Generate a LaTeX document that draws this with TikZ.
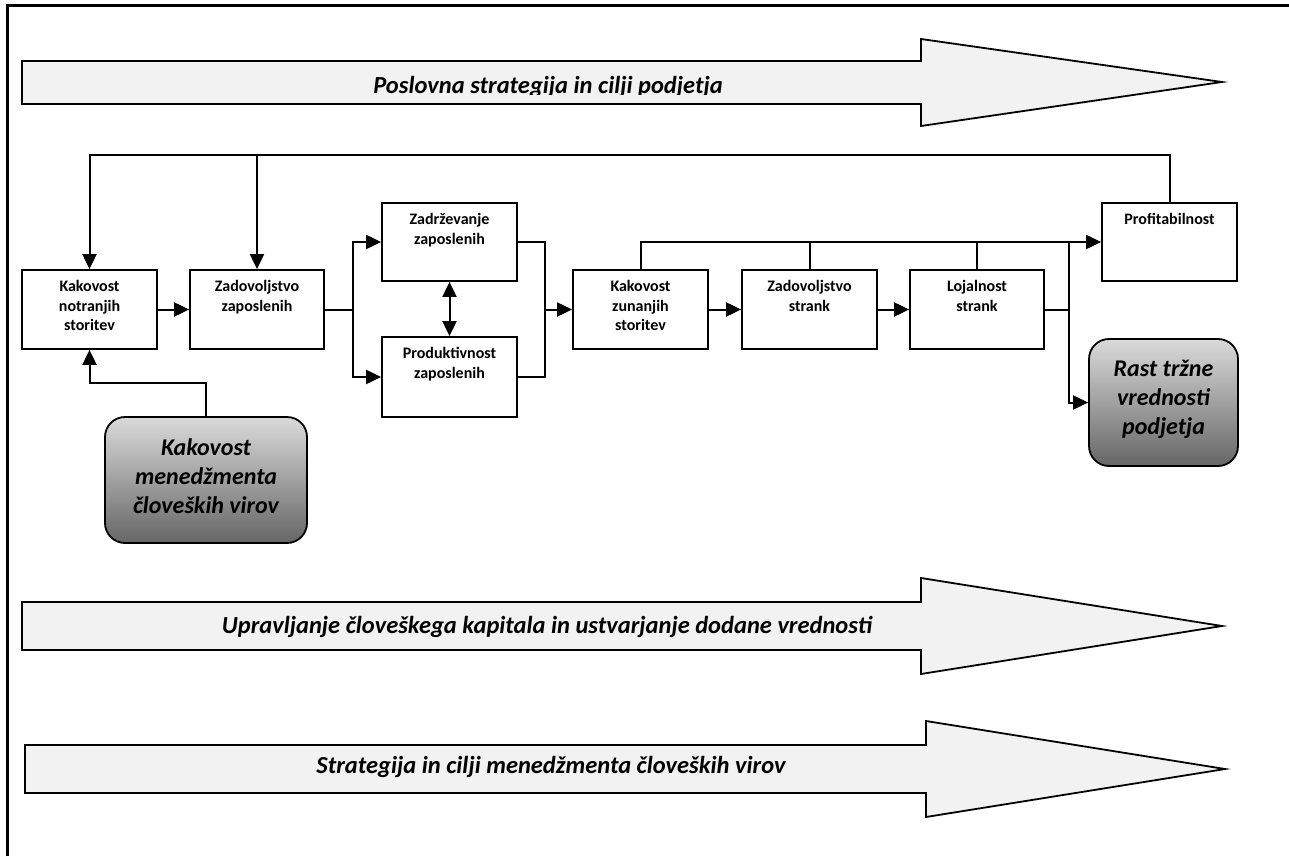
\documentclass[tikz,border=0pt]{standalone}
\usepackage{fontspec}
\setmainfont{Carlito}
\usetikzlibrary{arrows.meta}
\definecolor{bandfill}{HTML}{F2F2F2}
\definecolor{gradtop}{HTML}{DADADA}
\definecolor{gradbot}{HTML}{666666}

\begin{document}
\begin{tikzpicture}[x=1pt,y=-1pt,
  box/.style={draw, line width=1.8pt, minimum width=135pt, minimum height=79pt, inner sep=0pt, fill=white},
  boxtext/.style={anchor=north, align=center, inner sep=0pt, font=\fontsize{16}{19.5}\selectfont\bfseries},
  goal/.style={draw, line width=1.8pt, rounded corners=20pt, top color=gradtop, bottom color=gradbot, inner sep=0pt},
  goaltext/.style={align=center, inner sep=0pt, font=\fontsize{24}{29}\selectfont\bfseries\itshape},
  band/.style={draw, line width=1.8pt, fill=bandfill},
  bandtext/.style={font=\fontsize{24.5}{28}\selectfont\bfseries\itshape, inner sep=0pt},
  link/.style={line width=2pt},
  arr/.style={link, -{Triangle[length=15pt,width=14pt]}},
  dblarr/.style={link, {Triangle[length=15pt,width=14pt]}-{Triangle[length=15pt,width=14pt]}}
]
\useasboundingbox (0,0) rectangle (1289,856);

% outer frame (left and top edges)
\draw[line width=3pt] (7,856) -- (7,6) -- (1289,6);

% broad arrows
\draw[band] (22,61) -- (921,61) -- (921,39) -- (1222,82) -- (921,126) -- (921,104) -- (22,104) -- cycle;
\begin{scope}
  \clip (22,61) rectangle (921,95);
  \node[bandtext, anchor=base] (poslovna) at (548,94) {Poslovna strategija in cilji podjetja};
\end{scope}

\draw[band] (22,602) -- (921,602) -- (921,578) -- (1222,626) -- (921,674) -- (921,650) -- (22,650) -- cycle;
\node[bandtext] (upravljanje) at (547,627) {Upravljanje človeškega kapitala in ustvarjanje dodane vrednosti};

\draw[band] (25,745) -- (926,745) -- (926,721) -- (1225,769) -- (926,817) -- (926,793) -- (25,793) -- cycle;
\node[bandtext] (strategija) at (551,767) {Strategija in cilji menedžmenta človeških virov};

% process boxes
\node[box] (kn) at (89.5,309.5) {};
\node[boxtext] at ([yshift=-11pt]kn.north) {Kakovost\\notranjih\\storitev};
\node[box, minimum width=134pt] (zz) at (257,309.5) {};
\node[boxtext] at ([yshift=-11pt]zz.north) {Zadovoljstvo\\zaposlenih};
\node[box, minimum height=78pt] (zd) at (449.5,242) {};
\node[boxtext] at ([yshift=-11pt]zd.north) {Zadrževanje\\zaposlenih};
\node[box, minimum height=80pt] (pr) at (449.5,377) {};
\node[boxtext] at ([yshift=-11pt]pr.north) {Produktivnost\\zaposlenih};
\node[box] (kz) at (640.5,309.5) {};
\node[boxtext] at ([yshift=-11pt]kz.north) {Kakovost\\zunanjih\\storitev};
\node[box] (zs) at (809.5,309.5) {};
\node[boxtext] at ([yshift=-11pt]zs.north) {Zadovoljstvo\\strank};
\node[box, minimum width=134pt] (lo) at (977,309.5) {};
\node[boxtext] at ([yshift=-11pt]lo.north) {Lojalnost\\strank};
\node[box, minimum height=78pt] (pf) at (1169.5,242) {};
\node[boxtext] at ([yshift=-11pt]pf.north) {Profitabilnost};

% outcome boxes
\node[goal, minimum width=202pt, minimum height=126pt] (km) at (206,480) {};
\node[goaltext] at ([yshift=4pt]km.center) {Kakovost\\menedžmenta\\človeških virov};
\node[goal, minimum width=149pt, minimum height=127pt] (rast) at (1163.5,402.5) {};
\node[goaltext] at ([yshift=3pt]rast.center) {Rast tržne\\vrednosti\\podjetja};

% junction points
\coordinate (bus) at (0,155);
\coordinate (split) at (353,309.5);
\coordinate (merge) at (545,309.5);
\coordinate (fork) at (1069,309.5);
\coordinate (feed) at (0,383);

% feedback from profitability
\draw[arr] (pf.north) |- (kn.north |- bus) -- (kn.north);
\draw[arr] (zz.north |- bus) -- (zz.north);

% main chain
\draw[arr] (kn.east) -- (zz.west);
\draw[link] (zz.east) -- (split);
\draw[arr] (split) |- (zd.west);
\draw[arr] (split) |- (pr.west);
\draw[link] (zd.east) -| (merge);
\draw[link] (pr.east) -| (merge);
\draw[arr] (merge) -- (kz.west);
\draw[dblarr] (zd.south) -- (pr.north);
\draw[arr] (kz.east) -- (zs.west);
\draw[arr] (zs.east) -- (lo.west);

% customer side to profitability and market value
\draw[arr] (kz.north) |- (pf.west);
\draw[link] (zs.north) -- (zs.north |- pf.west);
\draw[link] (lo.north) -- (lo.north |- pf.west);
\draw[link] (lo.east) -- (fork);
\draw[arr] (fork |- pf.west) |- (rast.west);

% HR management quality into internal service
\draw[arr] (km.north) |- (kn.south |- feed) -- (kn.south);

\end{tikzpicture}
\end{document}
